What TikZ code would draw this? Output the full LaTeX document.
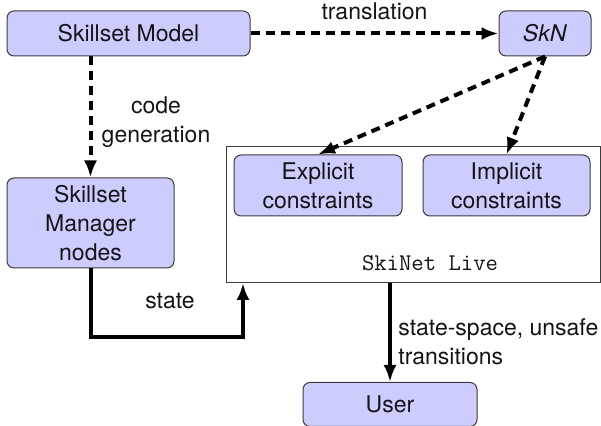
\documentclass[tikz,border=0pt]{standalone}
\usepackage{fontspec}
\setmainfont{TeX Gyre Heros}
\usetikzlibrary{positioning,arrows.meta,calc}
\definecolor{ink}{RGB}{20,20,20}
\definecolor{boxfr}{RGB}{60,60,60}
\definecolor{nodelav}{RGB}{204,204,255}
\newcommand{\diagfont}{\fontsize{11.5}{14.5}\selectfont}
\tikzset{
  box/.style={draw=boxfr, fill=nodelav, rounded corners=3.5pt, align=center,
    inner sep=2pt, font=\diagfont, text=ink, line width=0.5pt},
  frame/.style={draw=boxfr, fill=white, inner sep=0pt, line width=0.5pt},
  lbl/.style={font=\diagfont, text=ink, align=center, inner sep=0pt},
  dflow/.style={-{Latex[length=8.5pt,width=6.5pt]}, line width=2pt,
    dash pattern=on 4.5pt off 3pt, draw=black},
  sflow/.style={-{Latex[length=8.5pt,width=6.5pt]}, line width=2pt, draw=black},
}

\begin{document}
\begin{tikzpicture}[x=0.5pt,y=-0.5pt]
  \useasboundingbox (0,0) rectangle (601,426);
  % runtime frame with the two constraint sets
  \node[frame, minimum width=187pt, minimum height=68pt] (live) at (413,215) {};
  \node[box, minimum width=84pt, minimum height=30.5pt] (expl) at (318,185.5) {Explicit\\constraints};
  \node[box, minimum width=83.5pt, minimum height=30.5pt] (impl) at (506.5,185.5) {Implicit\\constraints};
  \node[lbl, font=\fontsize{12}{14}\selectfont\ttfamily] (livelbl) at (430,263) {SkiNet Live};
  % models and generated code
  \node[box, minimum width=121.5pt, minimum height=22.5pt] (model) at (128.5,33.5) {Skillset Model};
  \node[box, minimum width=46pt, minimum height=22.5pt] (skn) at (545,33.5) {\textit{SkN}};
  \node[box, minimum width=83.5pt, minimum height=45pt] (mgr) at (90.5,223) {Skillset\\Manager\\nodes};
  \node[box, minimum width=87pt, minimum height=22pt] (user) at (390,404.5) {User};
  \coordinate (statein) at (243,283);
  \coordinate (statebend) at (243,337);
  \draw[dflow] (model) -- node[lbl, above=6pt] {translation} (skn);
  \draw[dflow] (model.south -| mgr.north) -- (mgr.north);
  \node[lbl] (codegen) at (156,122) {code\\generation};
  \draw[dflow] (skn.south) -- (expl.north);
  \draw[dflow] (skn.south) -- (impl.north);
  \draw[sflow] (mgr.south) |- (statebend) -- (statein);
  \node[lbl] (statelbl) at (170,301) {state};
  \draw[sflow] (live.south -| user.north) -- (user.north);
  \node[lbl, anchor=west, align=left] (outlbl) at (398,342) {state-space, unsafe\\transitions};
\end{tikzpicture}
\end{document}
